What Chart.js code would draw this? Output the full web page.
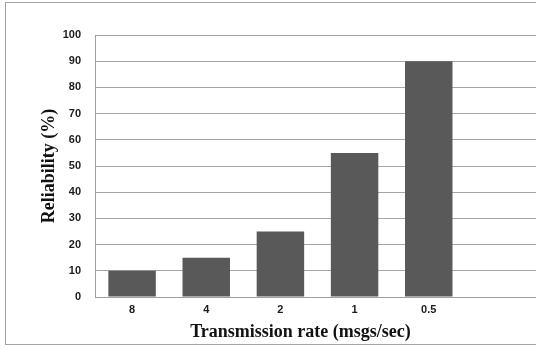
<!DOCTYPE html>
<html>
<head>
<meta charset="utf-8">
<script src="https://cdn.jsdelivr.net/npm/chart.js@4/dist/chart.umd.min.js"></script>
<style>
  html, body { margin: 0; padding: 0; background: #fff; overflow: hidden; }
  #frame { position: absolute; left: 5px; top: 2px; width: 600px; height: 343px;
           border: 1px solid #a3a3a3; box-sizing: border-box; }
  #wrap { position: absolute; left: 0; top: 0; width: 540px; height: 349px; }
</style>
</head>
<body>
<div id="frame"></div>
<div id="wrap"><canvas id="c"></canvas></div>
<script>
// Transmission rates (msgs/sec); the trailing blank slot keeps the open space on the right
const rates = ['8', '4', '2', '1', '0.5', ''];
const reliability = [10, 15, 25, 55, 90, null];
const yTicks = [0, 10, 20, 30, 40, 50, 60, 70, 80, 90, 100];

const xTitle = 'Transmission rate (msgs/sec)';
const yTitle = 'Reliability (%)';

const tickFont = { family: '"Liberation Sans", Arial, sans-serif', size: 11, weight: 'bold' };
const titleFont = { family: '"Liberation Serif", "Times New Roman", serif', size: 18, weight: 'bold' };

// x-axis caption sits a little left of the plot centre
const xCaption = {
  id: 'xCaption',
  afterDraw(chart) {
    const { ctx, chartArea } = chart;
    ctx.save();
    ctx.font = `bold ${titleFont.size}px ${titleFont.family}`;
    ctx.fillStyle = '#111';
    ctx.textAlign = 'center';
    ctx.textBaseline = 'alphabetic';
    ctx.fillText(xTitle, (chartArea.left + chartArea.right) / 2 - 17, chartArea.bottom + 40);
    ctx.restore();
  }
};

new Chart(document.getElementById('c'), {
  type: 'bar',
  data: {
    labels: rates,
    datasets: [{
      data: reliability,
      backgroundColor: '#595959',
      borderWidth: 0,
      categoryPercentage: 1,
      barPercentage: 0.64
    }]
  },
  options: {
    responsive: true,
    maintainAspectRatio: false,
    animation: false,
    layout: { padding: { top: 35, right: 0, bottom: 0, left: 0 } },
    plugins: { legend: { display: false }, tooltip: { enabled: false } },
    scales: {
      x: {
        grid: { display: false, drawTicks: false },
        border: { display: true, color: '#a0a0a0', width: 1 },
        ticks: { font: tickFont, color: '#1c1c1c', padding: 6, maxRotation: 0 },
        afterFit(scale) { scale.height = 52; }
      },
      y: {
        min: 0,
        max: 100,
        afterBuildTicks(scale) { scale.ticks = yTicks.map(v => ({ value: v })); },
        grid: { color: '#a6a6a6', lineWidth: 1, drawTicks: false },
        border: { display: true, color: '#a0a0a0', width: 1 },
        ticks: { font: tickFont, color: '#1c1c1c', padding: 14 },
        title: { display: true, text: yTitle, font: titleFont, color: '#111', padding: { top: 39, bottom: 0 } },
        afterFit(scale) { scale.width = 95; }
      }
    }
  },
  plugins: [xCaption]
});
</script>
</body>
</html>
